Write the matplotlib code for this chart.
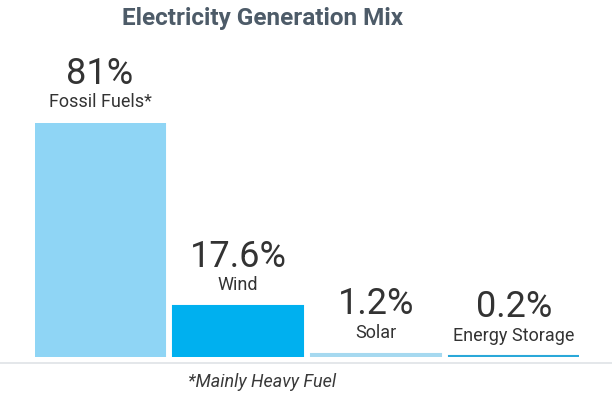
#発電構成の棒グラフ

import matplotlib.pyplot as plt
from matplotlib.lines import Line2D

#データ
categories = ['Fossil Fuels*', 'Wind', 'Solar', 'Energy Storage']
shares = [81, 17.6, 1.2, 0.2]
value_labels = ['81%', '17.6%', '1.2%', '0.2%']
colors = ['#8fd5f5', '#00b0ef', '#a6d9f0', '#2aa8d9']

plt.rcParams['font.family'] = ['Roboto', 'DejaVu Sans']

fig = plt.figure(figsize=(6.12, 3.94), dpi=100)
W, H = 612, 394
ax = fig.add_axes([35 / W, 37 / H, (579 - 35) / W, 234 / H])

x = list(range(len(categories)))
ax.bar(x, shares, width=0.942, color=colors, edgecolor=colors, linewidth=1.5)
ax.set_xlim(-0.471, len(categories) - 0.529)
ax.set_ylim(0, 81)
ax.axis('off')

#バーの上にラベル (オフセットはpt)
for i, v in enumerate(shares):
    ax.annotate(categories[i], xy=(i, v), xytext=(0, 15), textcoords='offset points',
                ha='center', va='center', fontsize=13, color='#333333')
    ax.annotate(value_labels[i], xy=(i, v), xytext=(0, 35.5), textcoords='offset points',
                ha='center', va='center', fontsize=26, color='#333333')

#タイトル・基線・注記
fig.text(263 / W, 1 - 18 / H, 'Electricity Generation Mix', ha='center', va='center',
         fontsize=17.5, fontweight='bold', color='#4d5b68')
fig.add_artist(Line2D([0, 1], [1 - 363 / H, 1 - 363 / H], color='#dfe3e6', lw=1.2))
fig.text(262 / W, 1 - 382 / H, '*Mainly Heavy Fuel', ha='center', va='center',
         fontsize=13, style='italic', color='#3a3a3a')

plt.savefig('out.png', dpi=100)
